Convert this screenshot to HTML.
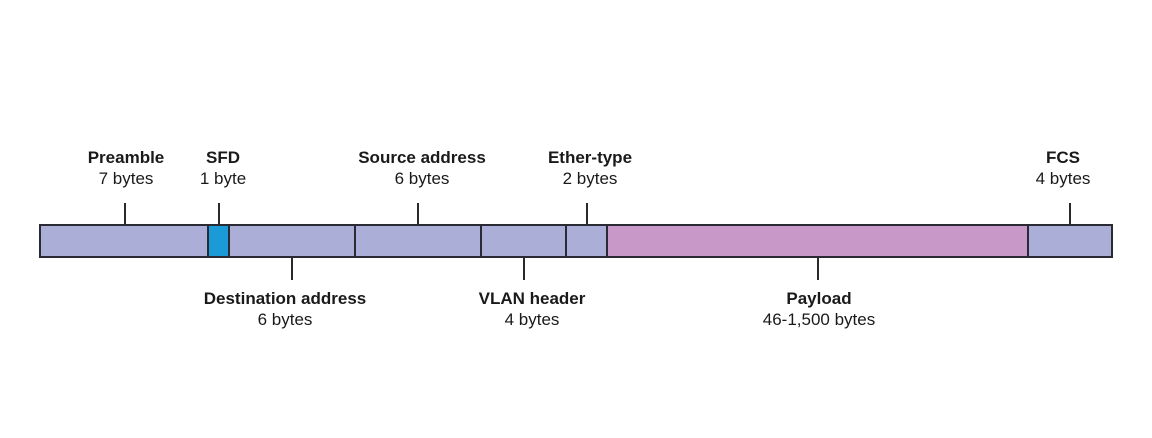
<!DOCTYPE html>
<html><head><style>
body{margin:0;background:#fff;}
.w{position:relative;width:1152px;height:438px;overflow:hidden;font-family:"Liberation Sans",sans-serif;color:#1a1a1a;}
.s{position:absolute;top:224px;height:30px;border:2px solid #2a2a35;background:#abaed7;box-sizing:content-box;}
.t{position:absolute;width:2px;background:#2a2a2a;}
.l{position:absolute;width:300px;text-align:center;font-size:17px;line-height:21px;}
.l b{display:block;font-weight:bold;}
</style></head><body><div class="w">
<div class="s" style="left:39px;width:168px"></div>
<div class="s" style="left:207px;width:21px;background:#1a9ad6"></div>
<div class="s" style="left:228px;width:125px"></div>
<div class="s" style="left:354px;width:125px"></div>
<div class="s" style="left:480px;width:84px"></div>
<div class="s" style="left:565px;width:40px"></div>
<div class="s" style="left:606px;width:420px;background:#c898c8"></div>
<div class="s" style="left:1027px;width:82px"></div>
<div class="t" style="left:124px;top:203px;height:22px"></div>
<div class="t" style="left:218px;top:203px;height:22px"></div>
<div class="t" style="left:417px;top:203px;height:22px"></div>
<div class="t" style="left:586px;top:203px;height:22px"></div>
<div class="t" style="left:1069px;top:203px;height:22px"></div>
<div class="t" style="left:291px;top:257px;height:23px"></div>
<div class="t" style="left:523px;top:257px;height:23px"></div>
<div class="t" style="left:817px;top:257px;height:23px"></div>
<div class="l" style="left:-24px;top:147px"><b>Preamble</b>7 bytes</div>
<div class="l" style="left:73px;top:147px"><b>SFD</b>1 byte</div>
<div class="l" style="left:272px;top:147px"><b>Source address</b>6 bytes</div>
<div class="l" style="left:440px;top:147px"><b>Ether-type</b>2 bytes</div>
<div class="l" style="left:913px;top:147px"><b>FCS</b>4 bytes</div>
<div class="l" style="left:135px;top:288px"><b>Destination address</b>6 bytes</div>
<div class="l" style="left:382px;top:288px"><b>VLAN header</b>4 bytes</div>
<div class="l" style="left:669px;top:288px"><b>Payload</b>46-1,500 bytes</div>
</div></body></html>
